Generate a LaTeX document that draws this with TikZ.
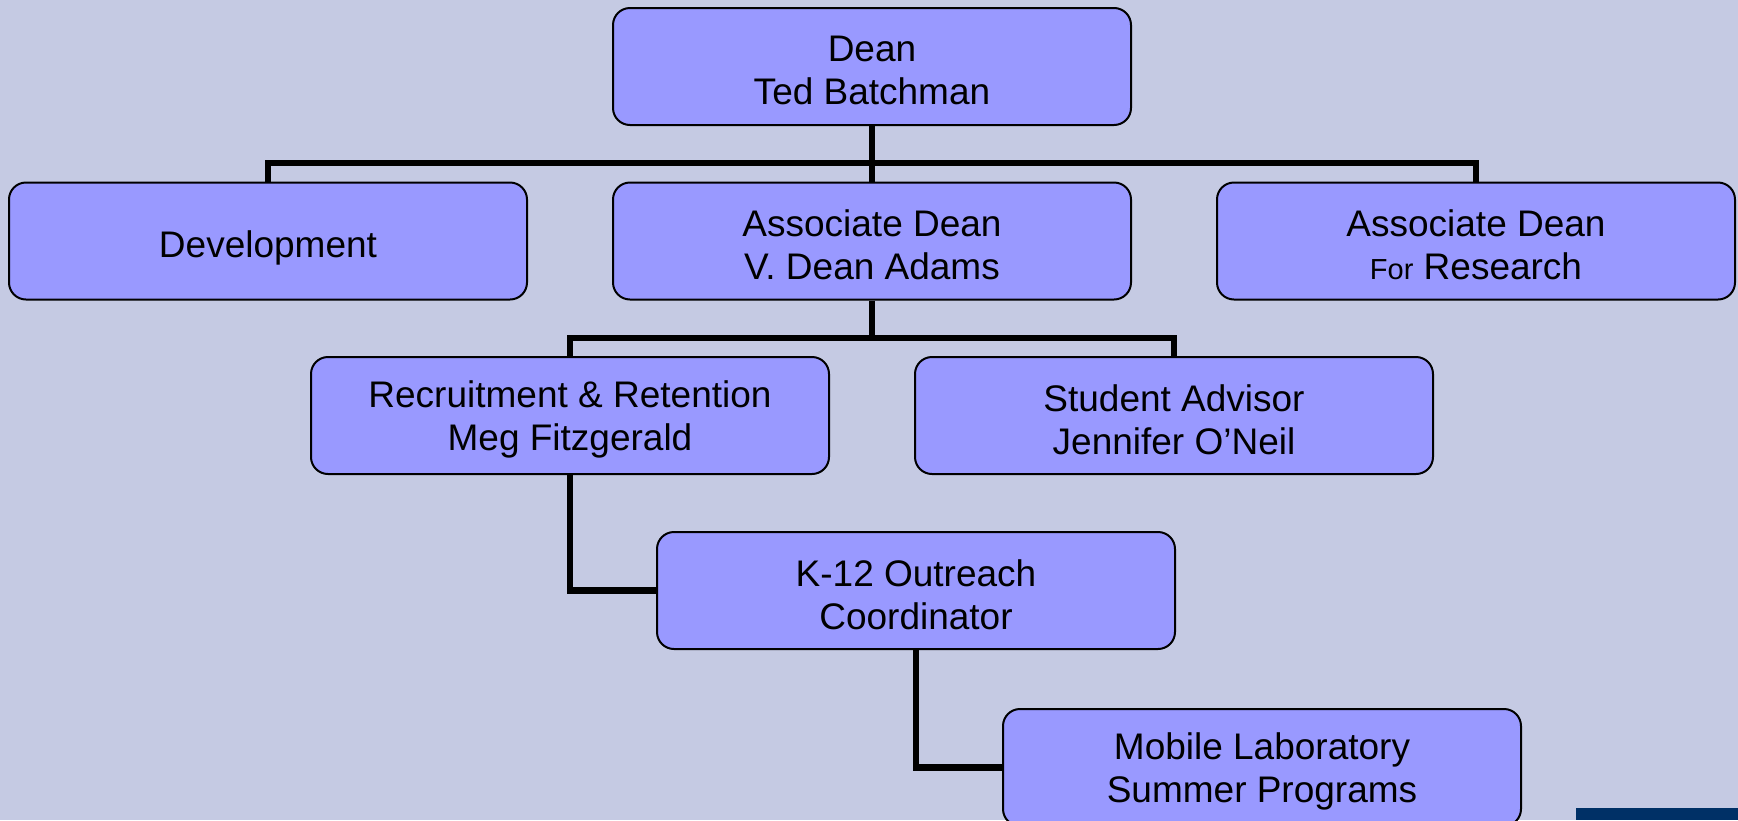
\documentclass[tikz,border=0pt]{standalone}
\usepackage{fontspec}
\setmainfont{Liberation Sans}
\definecolor{bg}{RGB}{197,202,227}
\definecolor{boxfill}{RGB}{153,153,255}
\definecolor{navy}{RGB}{0,48,102}
\tikzset{
  orgbox/.style={draw=black, line width=2pt, fill=boxfill, rounded corners=17pt,
    minimum width=518pt, minimum height=117pt, inner sep=0pt},
  txt/.style={align=center, inner sep=0pt, yshift=-4pt,
    font=\fontsize{37}{43}\selectfont},
  conn/.style={draw=black, line width=6.5pt}
}
\begin{document}
\begin{tikzpicture}[x=1pt,y=-1pt]
\useasboundingbox (0,0) rectangle (1738,820);
\fill[bg] (0,0) rectangle (1738,820);
\fill[navy] (1576,808) rectangle (1738,820);
\coordinate (bus1) at (872,163);
\coordinate (bus2) at (872,338);
\node[orgbox] (dean) at (872,66.5) {};
\node[orgbox] (dev) at (268,241) {};
\node[orgbox] (adean) at (872,241) {};
\node[orgbox] (res) at (1476,241) {};
\node[orgbox] (rec) at (570,415.5) {};
\node[orgbox] (stu) at (1174,415.5) {};
\node[orgbox] (k12) at (916,590.5) {};
\node[orgbox] (mob) at (1262,767.5) {};
\node[txt] (tdean) at (dean) {Dean\\Ted Batchman};
\node[txt, yshift=-3pt] (tdev) at (dev) {Development};
\node[txt] (tadean) at (adean) {Associate Dean\\V. Dean Adams};
\node[txt] (tres) at (res) {Associate Dean\\{\fontsize{29}{43}\selectfont For} Research};
\node[txt] (trec) at (rec) {Recruitment \& Retention\\Meg Fitzgerald};
\node[txt] (tstu) at (stu) {Student Advisor\\Jennifer O’Neil};
\node[txt] (tk12) at (k12) {K-12 Outreach\\Coordinator};
\node[txt] (tmob) at (mob) {Mobile Laboratory\\Summer Programs};
\draw[conn] (dev.north) |- (bus1) -| (res.north);
\draw[conn] (dean.south) -- (adean.north);
\draw[conn] (rec.north) |- (bus2) -| (stu.north);
\draw[conn] (adean.south) -- (bus2);
\draw[conn] (rec.south) |- (k12.west);
\draw[conn] (k12.south) |- (mob.west);
\end{tikzpicture}
\end{document}
